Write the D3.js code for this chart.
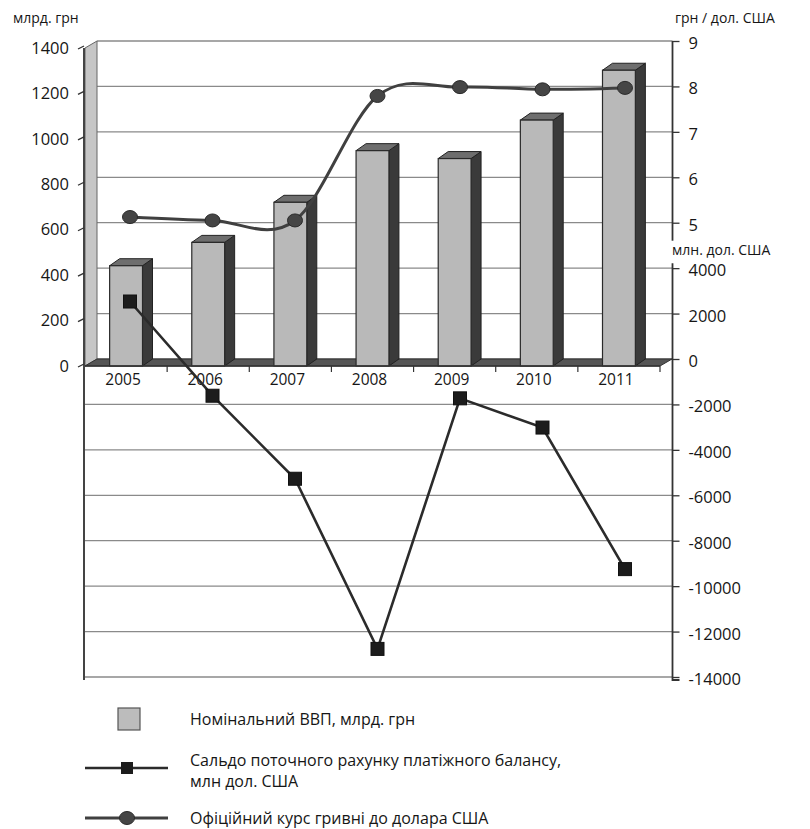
<!DOCTYPE html>
<html>
<head>
<meta charset="utf-8">
<script src="https://cdn.jsdelivr.net/npm/d3@7"></script>
<style>
  html, body { margin: 0; padding: 0; background: #fff; }
  svg { display: block; font-family: "Open Sans", "Noto Sans", sans-serif; }
</style>
</head>
<body>
<svg id="chart" width="810" height="829"></svg>
<script>
// Роки та показники
const years = ["2005", "2006", "2007", "2008", "2009", "2010", "2011"];
const gdp = [441.5, 544.2, 720.7, 948.1, 913.3, 1082.6, 1302.1];          // млрд. грн
const balance = [2531, -1617, -5272, -12763, -1732, -3018, -9250];        // млн дол. США
const rate = [5.125, 5.05, 5.05, 7.79, 7.985, 7.936, 7.968];               // грн / дол. США

const gdpTicks = [0, 200, 400, 600, 800, 1000, 1200, 1400];
const rateTicks = [5, 6, 7, 8, 9];
const balanceTicks = [4000, 2000, 0, -2000, -4000, -6000, -8000, -10000, -12000, -14000];

const legendLabels = [
  "Номінальний ВВП, млрд. грн",
  ["Сальдо поточного рахунку платіжного балансу,", "млн дол. США"],
  "Офіційний курс гривні до долара США"
];

const FONT = '"Open Sans", "Noto Sans", sans-serif';
const TEXT = "#161616";
const plain = d => String(d);   // звичайний дефіс для від'ємних чисел

const svg = d3.select("#chart");

// Геометрія 3D-області: передня площина та зсув у глибину
const front = { x0: 85, x1: 660, y0: 366 };
const depth = { dx: 12, dy: -7 };
const barDepth = { dx: 10, dy: -7 };
const rightX = 672.5;

const x = d3.scaleBand().domain(years).range([front.x0, front.x1]).paddingInner(0).paddingOuter(0);
const xLine = d3.scalePoint().domain(years).range([130, 625]);

// ВВП: передня і задня шкали
const yFront = d3.scaleLinear().domain([0, 1400]).range([front.y0, front.y0 - 318]);
const yBack = d3.scaleLinear().domain([0, 1400]).range([front.y0 + depth.dy, front.y0 + depth.dy - 318]);
// Курс
const yRate = d3.scaleLinear().domain([5, 9]).range([yBack(600), yBack(1400)]);
// Сальдо
const yBal = d3.scaleLinear().domain([-14000, 4000]).range([yBack(0) + 318, yBack(0) - 318 * 4000 / 14000]);

const gridColor = "#8a8a8a";

// Сітка задньої стінки
svg.append("g").selectAll("line").data(gdpTicks).join("line")
  .attr("x1", front.x0 + depth.dx).attr("x2", rightX)
  .attr("y1", d => yBack(d)).attr("y2", d => yBack(d))
  .attr("stroke", gridColor).attr("stroke-width", 1.3);

// Сітка нижньої частини (від'ємні значення сальдо)
svg.append("g").selectAll("line").data(balanceTicks.filter(d => d < 0)).join("line")
  .attr("x1", front.x0).attr("x2", rightX)
  .attr("y1", d => yBal(d)).attr("y2", d => yBal(d))
  .attr("stroke", gridColor).attr("stroke-width", 1.3);

// Ліва бічна стінка
svg.append("path")
  .attr("d", `M${front.x0},${yFront(0)} L${front.x0},${yFront(1400)} L${front.x0 + depth.dx},${yBack(1400)} L${front.x0 + depth.dx},${yBack(0)} Z`)
  .attr("fill", "#c6c6c6").attr("stroke", "#666").attr("stroke-width", 1);

// Підлога
svg.append("path")
  .attr("d", `M${front.x0},${front.y0} L${front.x1},${front.y0} L${front.x1 + depth.dx},${front.y0 + depth.dy} L${front.x0 + depth.dx},${front.y0 + depth.dy} Z`)
  .attr("fill", "#555").attr("stroke", "#333").attr("stroke-width", 1);

// Ліва вертикальна вісь уздовж усієї висоти
svg.append("line")
  .attr("x1", front.x0 - 1).attr("x2", front.x0 - 1)
  .attr("y1", yFront(1400)).attr("y2", yBal(-14000) + 3)
  .attr("stroke", "#444").attr("stroke-width", 2);

// Стовпчики ВВП
const barW = x.bandwidth() * 0.4;
const bars = svg.append("g").selectAll("g").data(years.map((y, i) => ({ year: y, v: gdp[i] }))).join("g");
bars.each(function (d) {
  const g = d3.select(this);
  const cx = x(d.year) + x.bandwidth() / 2;
  const xl = cx - barW / 2, xr = cx + barW / 2;
  const yt = yFront(d.v), yb = yFront(0);
  // бічна грань
  g.append("path")
    .attr("d", `M${xr},${yb} L${xr},${yt} L${xr + barDepth.dx},${yt + barDepth.dy} L${xr + barDepth.dx},${yb + barDepth.dy} Z`)
    .attr("fill", "#3a3a3a").attr("stroke", "#222").attr("stroke-width", 1);
  // верхня грань
  g.append("path")
    .attr("d", `M${xl},${yt} L${xr},${yt} L${xr + barDepth.dx},${yt + barDepth.dy} L${xl + barDepth.dx},${yt + barDepth.dy} Z`)
    .attr("fill", "#6e6e6e").attr("stroke", "#222").attr("stroke-width", 1);
  // передня грань
  g.append("rect")
    .attr("x", xl).attr("y", yt).attr("width", barW).attr("height", yb - yt)
    .attr("fill", "#b9b9b9").attr("stroke", "#2a2a2a").attr("stroke-width", 1.2);
});

// Вісь X (передній край підлоги)
svg.append("line")
  .attr("x1", front.x0).attr("x2", front.x1).attr("y1", front.y0).attr("y2", front.y0)
  .attr("stroke", "#333").attr("stroke-width", 1.5);
svg.append("g").selectAll("line").data(years.slice(1).concat(["end"])).join("line")
  .attr("x1", d => d === "end" ? front.x1 : x(d)).attr("x2", d => d === "end" ? front.x1 : x(d))
  .attr("y1", front.y0).attr("y2", front.y0 + 6)
  .attr("stroke", "#333").attr("stroke-width", 1.2);
svg.append("g").selectAll("text").data(years).join("text")
  .attr("x", d => x(d) + x.bandwidth() / 2 - 3).attr("y", front.y0 + 14)
  .attr("dy", "0.35em").attr("text-anchor", "middle")
  .attr("font-size", 15.5).attr("fill", TEXT).text(d => d);

// Ліва шкала ВВП
const leftAxis = svg.append("g");
leftAxis.selectAll("line").data(gdpTicks).join("line")
  .attr("x1", front.x0 - 7).attr("x2", front.x0 - 1)
  .attr("y1", d => yFront(d) + 1).attr("y2", d => yFront(d) - 2)
  .attr("stroke", "#333").attr("stroke-width", 1.3);
leftAxis.selectAll("text").data(gdpTicks).join("text")
  .attr("x", 69).attr("y", d => yFront(d)).attr("dy", "0.35em")
  .attr("text-anchor", "end").attr("font-size", 16.5).attr("fill", TEXT).text(plain);
svg.append("text").attr("x", 13).attr("y", 18).attr("dy", "0.35em")
  .attr("font-size", 14).attr("fill", TEXT).text("млрд. грн");

// Права шкала курсу
const rateAxis = d3.axisRight(yRate).tickValues(rateTicks).tickSize(7).tickPadding(9).tickFormat(plain);
const rg = svg.append("g").attr("transform", `translate(${rightX},0)`).call(rateAxis)
  .attr("font-family", FONT);
rg.select(".domain").attr("d", `M0,${yRate(9)} V${yRate(5) + 18}`).attr("stroke", "#333").attr("stroke-width", 1.8);
rg.selectAll(".tick line").attr("stroke", "#333").attr("stroke-width", 1.3);
rg.selectAll(".tick text").attr("font-size", 16.5).attr("fill", TEXT).attr("dy", "0.45em");
svg.append("text").attr("x", 675).attr("y", 18).attr("dy", "0.35em")
  .attr("font-size", 14).attr("fill", TEXT).text("грн / дол. США");

// Права шкала сальдо
const balAxis = d3.axisRight(yBal).tickValues(balanceTicks).tickSize(7).tickPadding(9).tickFormat(plain);
const bg = svg.append("g").attr("transform", `translate(${rightX},0)`).call(balAxis)
  .attr("font-family", FONT);
bg.select(".domain").attr("d", `M0,${yBal(4000) - 5} V${yBal(-14000) + 3} H7`).attr("stroke", "#333").attr("stroke-width", 1.8).attr("fill", "none");
bg.selectAll(".tick line").attr("stroke", "#333").attr("stroke-width", 1.3);
bg.selectAll(".tick text").attr("font-size", 16.5).attr("fill", TEXT).attr("dy", "0.45em");
svg.append("text").attr("x", 672).attr("y", 250).attr("dy", "0.35em")
  .attr("font-size", 14).attr("fill", TEXT).text("млн. дол. США");

// Лінія сальдо
const balPts = years.map((y, i) => [xLine(y), yBal(balance[i])]);
svg.append("path").datum(balPts)
  .attr("d", d3.line())
  .attr("fill", "none").attr("stroke", "#2b2b2b").attr("stroke-width", 2.6);
svg.append("g").selectAll("rect").data(balPts).join("rect")
  .attr("x", d => d[0] - 6.5).attr("y", d => d[1] - 6.5)
  .attr("width", 13).attr("height", 13)
  .attr("fill", "#1c1c1c").attr("stroke", "#111");

// Лінія курсу (згладжена)
const ratePts = years.map((y, i) => [xLine(y), yRate(rate[i])]);
svg.append("path").datum(ratePts)
  .attr("d", d3.line().curve(d3.curveCatmullRom.alpha(0)))
  .attr("fill", "none").attr("stroke", "#404040").attr("stroke-width", 3);
svg.append("g").selectAll("ellipse").data(ratePts).join("ellipse")
  .attr("cx", d => d[0]).attr("cy", d => d[1])
  .attr("rx", 7.5).attr("ry", 6.5)
  .attr("fill", "#454545").attr("stroke", "#2a2a2a").attr("stroke-width", 1);

// Легенда
const lg = svg.append("g").attr("font-size", 16).attr("fill", TEXT);
lg.append("rect").attr("x", 118).attr("y", 708).attr("width", 22).attr("height", 22)
  .attr("fill", "#bcbcbc").attr("stroke", "#555").attr("stroke-width", 1.2);
lg.append("text").attr("x", 190).attr("y", 719).attr("dy", "0.35em").text(legendLabels[0]);

lg.append("line").attr("x1", 85).attr("x2", 168).attr("y1", 768).attr("y2", 768)
  .attr("stroke", "#2b2b2b").attr("stroke-width", 2.6);
lg.append("rect").attr("x", 121).attr("y", 762).attr("width", 12).attr("height", 12).attr("fill", "#1c1c1c");
lg.append("text").attr("x", 190).attr("y", 760).attr("dy", "0.35em").text(legendLabels[1][0]);
lg.append("text").attr("x", 190).attr("y", 781).attr("dy", "0.35em").text(legendLabels[1][1]);

lg.append("line").attr("x1", 85).attr("x2", 168).attr("y1", 818).attr("y2", 818)
  .attr("stroke", "#404040").attr("stroke-width", 3);
lg.append("ellipse").attr("cx", 127).attr("cy", 818).attr("rx", 7.5).attr("ry", 6.5)
  .attr("fill", "#454545").attr("stroke", "#2a2a2a");
lg.append("text").attr("x", 190).attr("y", 818).attr("dy", "0.35em").text(legendLabels[2]);
</script>
</body>
</html>
